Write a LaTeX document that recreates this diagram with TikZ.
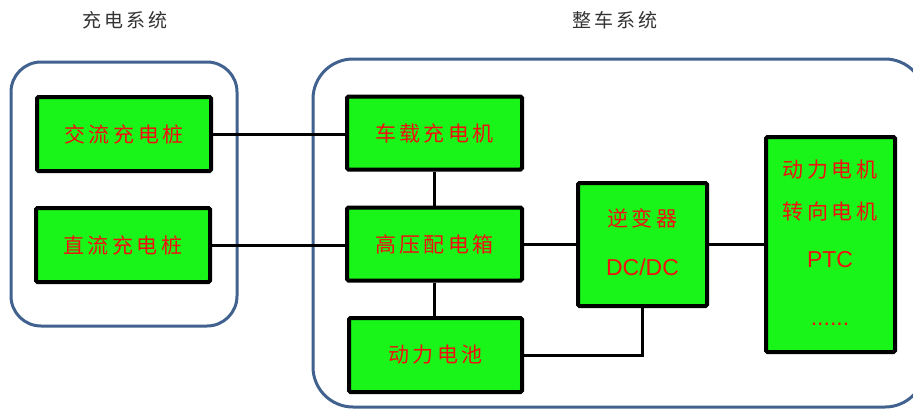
\documentclass[tikz,border=0pt]{standalone}
\usepackage{fontspec}
\newfontfamily\cjk{Noto Sans CJK SC}
\setmainfont{Liberation Sans}
\definecolor{boxgreen}{HTML}{19F519}
\definecolor{framecol}{HTML}{41618F}
\definecolor{txtred}{HTML}{F01010}
\begin{document}
\begin{tikzpicture}[x=1pt,y=-1pt,
  container/.style={draw=framecol,line width=3pt,rounded corners=#1},
  gbox/.style={draw=black,line width=4pt,fill=boxgreen,rounded corners=1.5pt},
  btxt/.style={text=txtred,font=\cjk\fontsize{21}{24}\selectfont,inner sep=0pt},
  ltxt/.style={text=txtred,font=\fontsize{23}{26}\selectfont,inner sep=0pt},
  ttl/.style={text=black!80,font=\cjk\fontsize{19}{22}\selectfont,inner sep=0pt},
  conn/.style={draw=black,line width=3pt}]
\useasboundingbox (0,0) rectangle (913,410);
% containers
\draw[container=30pt] (11,62) rectangle (237,326);
\draw[container=40pt] (313,59) rectangle (925,407);
% titles
\node[ttl] (t1) at (125,20) {充\,电\,系\,统};
\node[ttl] (t2) at (615,20) {整\,车\,系\,统};
% boxes
\node[gbox,minimum width=174pt,minimum height=74pt] (ac) at (124,134) {};
\node[gbox,minimum width=174pt,minimum height=74pt] (dc) at (123,245) {};
\node[gbox,minimum width=175pt,minimum height=73pt] (obc) at (434.5,133) {};
\node[gbox,minimum width=175pt,minimum height=73pt] (pdu) at (434.5,244) {};
\node[gbox,minimum width=173pt,minimum height=74pt] (bat) at (435.5,355) {};
\node[gbox,minimum width=129pt,minimum height=123pt] (inv) at (642.5,244.5) {};
\node[gbox,minimum width=129pt,minimum height=215pt] (load) at (830.5,244.5) {};
% texts
\node[btxt] (acT) at (ac) {交\,流\,充\,电\,桩};
\node[btxt] (dcT) at (dc) {直\,流\,充\,电\,桩};
\node[btxt] (obcT) at (obc) {车\,载\,充\,电\,机};
\node[btxt] (pduT) at (pdu) {高\,压\,配\,电\,箱};
\node[btxt] (batT) at (bat) {动\,力\,电\,池};
\node[btxt] (invT1) at (642.5,218) {逆\,变\,器};
\node[ltxt] (invT2) at (642.5,267) {DC/DC};
\node[btxt] (ldT1) at (830,170) {动\,力\,电\,机};
\node[btxt] (ldT2) at (830,212) {转\,向\,电\,机};
\node[ltxt] (ldT3) at (830,260) {PTC};
\node[ltxt,anchor=base] (ldT4) at (830,325) {......};
% connectors
\draw[conn] (ac.east) -- (obc.west |- ac.east);
\draw[conn] (dc.east) -- (pdu.west |- dc.east);
\draw[conn] (obc.south) -- (pdu.north);
\draw[conn] (pdu.south) -- (pdu.south |- bat.north);
\draw[conn] (pdu.east) -- (inv.west |- pdu.east);
\draw[conn] (inv.east) -- (load.west |- inv.east);
\coordinate (corner) at (inv.south |- bat.east);
\draw[conn] (bat.east) -- (corner) -- (inv.south);
\end{tikzpicture}
\end{document}
